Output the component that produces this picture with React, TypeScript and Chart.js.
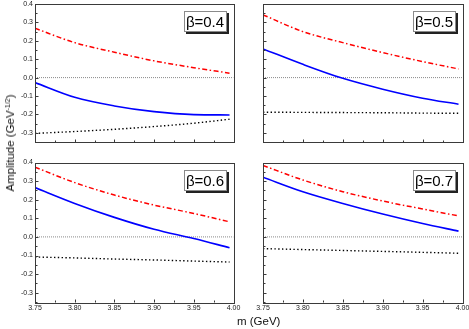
import React, { useEffect, useRef } from "react";
import { Chart, registerables } from "chart.js";

Chart.register(...registerables);

// ---------- data ----------
const mValues = [3.75, 3.8, 3.85, 3.9, 3.95, 3.995];
const xTickValues = [3.75, 3.8, 3.85, 3.9, 3.95, 4.0];
const yTickValues = [-0.3, -0.2, -0.1, 0.0, 0.1, 0.2, 0.3, 0.4];
const betaLabels = ["β=0.4", "β=0.5", "β=0.6", "β=0.7"];

const red04 = [0.268, 0.19, 0.138, 0.091, 0.054, 0.024];
const blue04 = [-0.027, -0.107, -0.154, -0.185, -0.201, -0.203];
const black04 = [-0.303, -0.293, -0.281, -0.266, -0.248, -0.226];

const red05 = [0.341, 0.25, 0.19, 0.136, 0.087, 0.047];
const blue05 = [0.156, 0.072, -0.004, -0.063, -0.112, -0.145];
const black05 = [-0.188, -0.189, -0.19, -0.191, -0.193, -0.194];

const red06 = [0.375, 0.292, 0.225, 0.171, 0.126, 0.081];
const blue06 = [0.265, 0.18, 0.105, 0.041, -0.009, -0.058];
const black06 = [-0.108, -0.113, -0.119, -0.124, -0.13, -0.135];

const red07 = [0.384, 0.306, 0.243, 0.193, 0.15, 0.113];
const blue07 = [0.321, 0.243, 0.18, 0.123, 0.072, 0.031];
const black07 = [-0.063, -0.068, -0.073, -0.078, -0.083, -0.088];

const zeroLine = [0, 0];
const zeroLineX = [3.75, 4.0];

const seriesSets = [
  { red: red04, blue: blue04, black: black04 },
  { red: red05, blue: blue05, black: black05 },
  { red: red06, blue: blue06, black: black06 },
  { red: red07, blue: blue07, black: black07 },
];

// ---------- layout ----------
const W = 469;
const H = 329;
const FONT = '"Liberation Sans", Arial, Helvetica, sans-serif';

const panels = [
  { L: 35, T: 4, R: 233.5, B: 142, showX: false, showY: true },
  { L: 263, T: 4, R: 462.5, B: 142, showX: false, showY: false },
  { L: 35, T: 162.5, R: 233.5, B: 302, showX: true, showY: true },
  { L: 263, T: 162.5, R: 462.5, B: 302, showX: true, showY: false },
];

const Y_AXIS_W = 35;
const X_AXIS_H = 12;

const toPts = (xs: number[], ys: number[]) => xs.map((x, i) => ({ x, y: ys[i] }));

const frameTicksPlugin = {
  id: "frameTicks",
  afterDatasetsDraw(chart: any) {
    const { ctx, chartArea } = chart;
    const { left, right, top, bottom } = chartArea;
    const xs = chart.scales.x;
    const ys = chart.scales.y;
    ctx.save();
    ctx.strokeStyle = "#3a3a3a";
    ctx.lineWidth = 1;
    ctx.strokeRect(Math.round(left) + 0.5, Math.round(top) + 0.5, Math.round(right - left), Math.round(bottom - top));
    ctx.beginPath();
    const bx = Math.round(bottom) + 0.5;
    const lx = Math.round(left) + 0.5;
    for (let i = 0; i < xTickValues.length; i++) {
      const px = Math.round(xs.getPixelForValue(xTickValues[i])) + 0.5;
      ctx.moveTo(px, bx);
      ctx.lineTo(px, bx - 3);
      if (i < xTickValues.length - 1) {
        const mid = (xTickValues[i] + xTickValues[i + 1]) / 2;
        const pm = Math.round(xs.getPixelForValue(mid)) + 0.5;
        ctx.moveTo(pm, bx);
        ctx.lineTo(pm, bx - 2);
      }
    }
    const yAll = [-0.35, ...yTickValues];
    for (let i = 0; i < yAll.length; i++) {
      const py = Math.round(ys.getPixelForValue(yAll[i])) + 0.5;
      const major = i > 0;
      ctx.moveTo(lx, py);
      ctx.lineTo(lx + (major ? 3 : 2), py);
      if (i > 0 && i < yAll.length - 1) {
        const mid = yAll[i] + 0.05;
        const pm = Math.round(ys.getPixelForValue(mid)) + 0.5;
        ctx.moveTo(lx, pm);
        ctx.lineTo(lx + 2, pm);
      }
    }
    ctx.stroke();
    ctx.restore();
  },
};

function Panel({ idx }: { idx: number }) {
  const ref = useRef<HTMLCanvasElement>(null);
  useEffect(() => {
    const p = panels[idx];
    const s = seriesSets[idx];
    const yW = p.showY ? Y_AXIS_W : 0;
    const xH = p.showX ? X_AXIS_H : 0;
    const chart = new Chart(ref.current as HTMLCanvasElement, {
      type: "line",
      data: {
        datasets: [
          {
            data: toPts(mValues, s.blue),
            borderColor: "#0000ff",
            borderWidth: 1.6,
            pointRadius: 0,
            cubicInterpolationMode: "monotone",
            fill: false,
          },
          {
            data: toPts(mValues, s.red),
            borderColor: "#ff0000",
            borderWidth: 1.5,
            borderDash: [5, 2.5, 1.5, 2.5],
            pointRadius: 0,
            cubicInterpolationMode: "monotone",
            fill: false,
          },
          {
            data: toPts(mValues, s.black),
            borderColor: "#000000",
            borderWidth: 1.4,
            borderDash: [1.4, 2.4],
            pointRadius: 0,
            cubicInterpolationMode: "monotone",
            fill: false,
          },
          {
            data: toPts(zeroLineX, zeroLine),
            borderColor: "#8a8a8a",
            borderWidth: 1,
            borderDash: [1, 1],
            pointRadius: 0,
            fill: false,
          },
        ],
      },
      options: {
        responsive: false,
        maintainAspectRatio: false,
        animation: false,
        devicePixelRatio: 1,
        layout: {
          padding: {
            left: p.L - yW,
            top: p.T,
            right: W - p.R,
            bottom: H - p.B - xH,
          },
        },
        plugins: {
          legend: { display: false },
          tooltip: { enabled: false },
        },
        scales: {
          x: {
            type: "linear",
            min: 3.75,
            max: 4.0,
            grid: { display: false, drawTicks: false },
            border: { display: false },
            afterBuildTicks: (scale: any) => {
              scale.ticks = xTickValues.map((v) => ({ value: v }));
            },
            afterFit: (scale: any) => {
              scale.height = xH;
              scale.paddingLeft = 0;
              scale.paddingRight = 0;
            },
            ticks: {
              display: p.showX,
              padding: 2,
              maxRotation: 0,
              autoSkip: false,
              color: "#222",
              font: { family: FONT, size: 7 },
              callback: (v: any) => Number(v).toFixed(2),
            },
          },
          y: {
            type: "linear",
            min: -0.35,
            max: 0.4,
            grid: { display: false, drawTicks: false },
            border: { display: false },
            afterBuildTicks: (scale: any) => {
              scale.ticks = yTickValues.map((v) => ({ value: v }));
            },
            afterFit: (scale: any) => {
              scale.width = yW;
              scale.paddingTop = 0;
              scale.paddingBottom = 0;
            },
            ticks: {
              display: p.showY,
              padding: 2,
              autoSkip: false,
              color: "#222",
              font: { family: FONT, size: 7 },
              callback: (v: any) => Number(v).toFixed(1),
            },
          },
        },
      },
      plugins: [frameTicksPlugin],
    } as any);
    return () => chart.destroy();
  }, [idx]);
  return (
    <canvas
      ref={ref}
      width={W}
      height={H}
      style={{ position: "absolute", left: 0, top: 0, width: W, height: H }}
    />
  );
}

function BetaBox({ idx }: { idx: number }) {
  const p = panels[idx];
  return (
    <div
      style={{
        position: "absolute",
        left: p.R - 50,
        top: p.T + 7,
        width: 43,
        height: 21,
        boxSizing: "border-box",
        border: "1px solid #8a8a8a",
        boxShadow: "2px 2px 0 #222",
        background: "#fff",
        fontFamily: FONT,
        fontSize: 15,
        lineHeight: "19px",
        textAlign: "center",
        color: "#000",
        whiteSpace: "nowrap",
      }}
    >
      {betaLabels[idx]}
    </div>
  );
}

export default function App() {
  return (
    <div
      style={{
        position: "absolute",
        left: 0,
        top: 0,
        width: W,
        height: H,
        background: "#fff",
        overflow: "hidden",
        fontFamily: FONT,
      }}
    >
      {panels.map((_, i) => (
        <Panel key={"p" + i} idx={i} />
      ))}
      {panels.map((_, i) => (
        <BetaBox key={"b" + i} idx={i} />
      ))}
      <div
        style={{
          position: "absolute",
          left: 10,
          top: 143,
          transform: "translate(-50%, -50%) rotate(-90deg)",
          fontSize: 11.5,
          whiteSpace: "nowrap",
          color: "#111",
        }}
      >
        Amplitude (GeV<sup style={{ fontSize: 7, verticalAlign: "4px" }}>-1/2</sup>)
      </div>
      <div
        style={{
          position: "absolute",
          left: 237,
          top: 315,
          fontSize: 11.5,
          whiteSpace: "nowrap",
          color: "#111",
        }}
      >
        m (GeV)
      </div>
    </div>
  );
}
